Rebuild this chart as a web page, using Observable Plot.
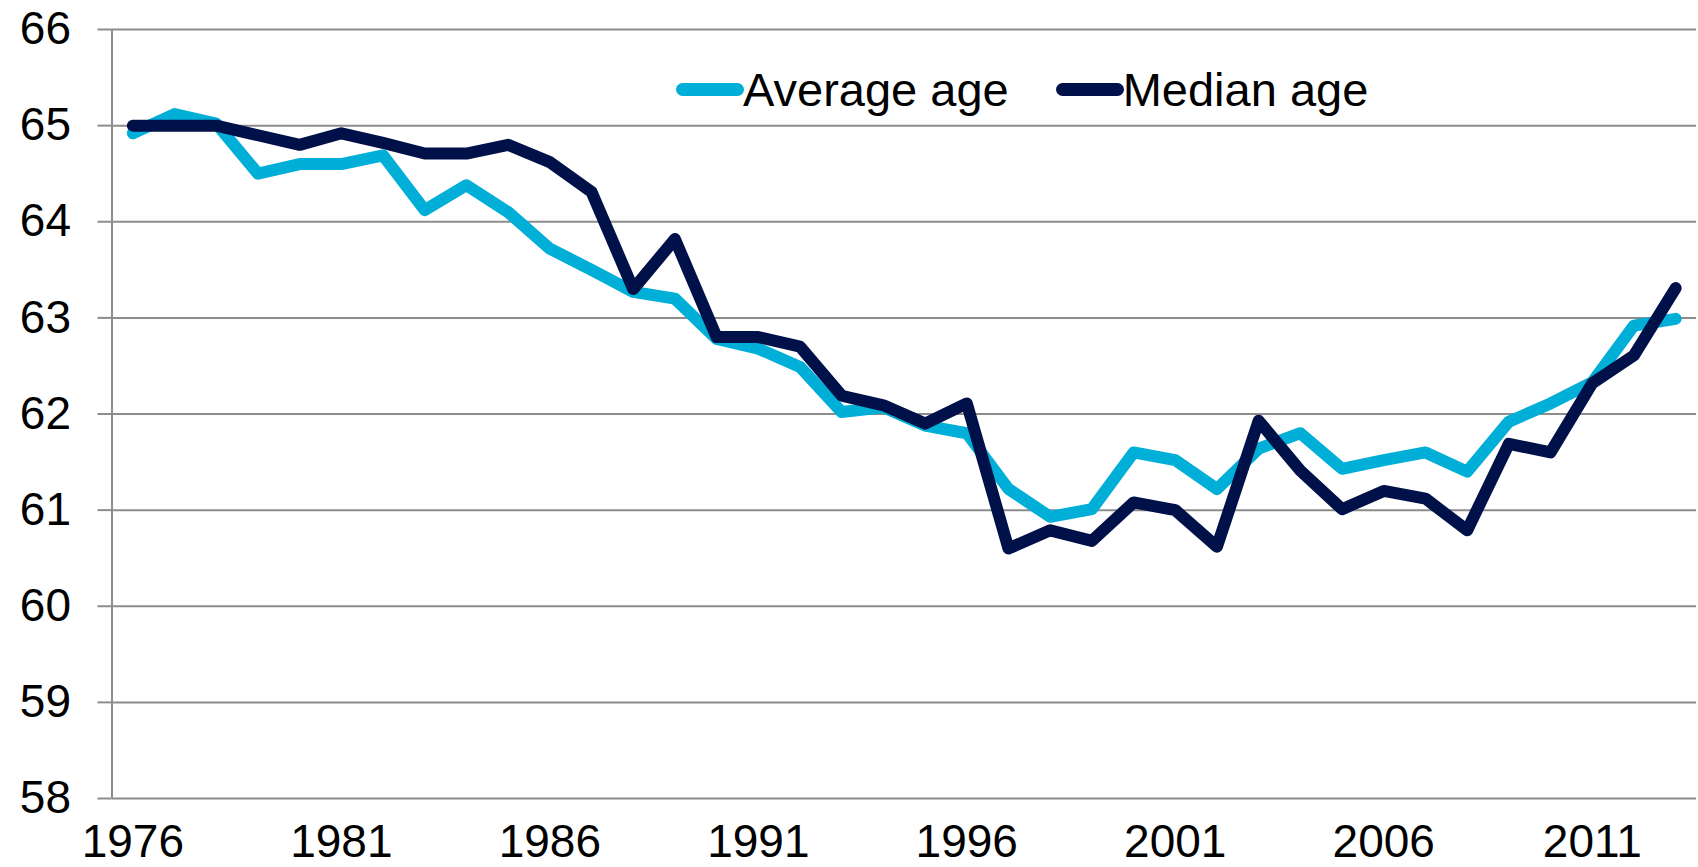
<!DOCTYPE html>
<html>
<head>
<meta charset="utf-8">
<script src="https://cdn.jsdelivr.net/npm/d3@7"></script>
<script src="https://cdn.jsdelivr.net/npm/@observablehq/plot@0.6"></script>
<style>
  html, body { margin: 0; padding: 0; background: #fff; }
  #wrap { position: relative; width: 1698px; height: 867px; font-family: "Liberation Sans", Arial, sans-serif; }
  #legend { position: absolute; left: 676px; top: 66px; display: flex; gap: 47px; font-size: 47px; line-height: 47px; color: #000; }
  .item { display: flex; align-items: center; }
  .sw { width: 68px; height: 13px; border-radius: 7px; margin-right: -1px; }
</style>
</head>
<body>
<div id="wrap"></div>
<script>
const years = [1976,1977,1978,1979,1980,1981,1982,1983,1984,1985,1986,1987,1988,1989,1990,1991,1992,1993,1994,1995,1996,1997,1998,1999,2000,2001,2002,2003,2004,2005,2006,2007,2008,2009,2010,2011,2012,2013];
const averageAge = [64.92,65.12,65.02,64.5,64.6,64.6,64.69,64.12,64.38,64.1,63.72,63.5,63.27,63.2,62.78,62.68,62.49,62.02,62.07,61.88,61.8,61.22,60.93,61.01,61.6,61.52,61.22,61.64,61.8,61.43,61.52,61.6,61.4,61.92,62.11,62.33,62.92,62.99];
const medianAge = [65.0,65.0,65.0,64.9,64.8,64.92,64.82,64.71,64.71,64.8,64.62,64.31,63.3,63.82,62.8,62.8,62.7,62.19,62.09,61.9,62.11,60.6,60.79,60.68,61.08,61.0,60.62,61.93,61.41,61.01,61.2,61.12,60.79,61.69,61.6,62.32,62.61,63.31];
const seriesNames = ["Average age", "Median age"];
const seriesColors = ["#00AFD7", "#00114A"];
const yTicks = [58,59,60,61,62,63,64,65,66];
const xTicks = [1976,1981,1986,1991,1996,2001,2006,2011];

const rows = [];
years.forEach((yr, i) => {
  rows.push({year: yr, value: averageAge[i], series: seriesNames[0]});
  rows.push({year: yr, value: medianAge[i], series: seriesNames[1]});
});

const gridColor = "#8c8c8c";
const chart = Plot.plot({
  width: 1698,
  height: 867,
  marginLeft: 111.5,
  marginRight: 2,
  marginTop: 29,
  marginBottom: 69,
  style: {fontFamily: "'Liberation Sans', Arial, sans-serif", fontSize: "46px", color: "#000", background: "#fff"},
  x: {domain: [years[0] - 0.5, years[years.length - 1] + 0.5]},
  y: {domain: [yTicks[0], yTicks[yTicks.length - 1]]},
  color: {domain: seriesNames, range: seriesColors},
  marks: [
    Plot.ruleY(yTicks, {stroke: gridColor, strokeWidth: 2}),
    Plot.ruleX([years[0] - 0.5], {stroke: gridColor, strokeWidth: 2}),
    Plot.axisY({ticks: yTicks, tickSize: 14, tickPadding: 27, stroke: gridColor, strokeWidth: 2, strokeOpacity: 1, label: null, tickFormat: d => String(d), fontSize: 46, fill: "#000"}),
    Plot.axisX({ticks: xTicks, tickSize: 0, tickPadding: 26, label: null, tickFormat: d => String(d), fontSize: 46, fill: "#000"}),
    Plot.line(rows.filter(d => d.series === seriesNames[0]), {x: "year", y: "value", stroke: "series", strokeWidth: 12, strokeLinecap: "round", strokeLinejoin: "round"}),
    Plot.line(rows.filter(d => d.series === seriesNames[1]), {x: "year", y: "value", stroke: "series", strokeWidth: 12, strokeLinecap: "round", strokeLinejoin: "round"})
  ]
});

const wrap = document.getElementById("wrap");
wrap.appendChild(chart);

const legend = document.createElement("div");
legend.id = "legend";
seriesNames.forEach((name, i) => {
  const item = document.createElement("div");
  item.className = "item";
  const sw = document.createElement("span");
  sw.className = "sw";
  sw.style.background = seriesColors[i];
  const t = document.createElement("span");
  t.textContent = name;
  item.appendChild(sw);
  item.appendChild(t);
  legend.appendChild(item);
});
wrap.appendChild(legend);
</script>
</body>
</html>
